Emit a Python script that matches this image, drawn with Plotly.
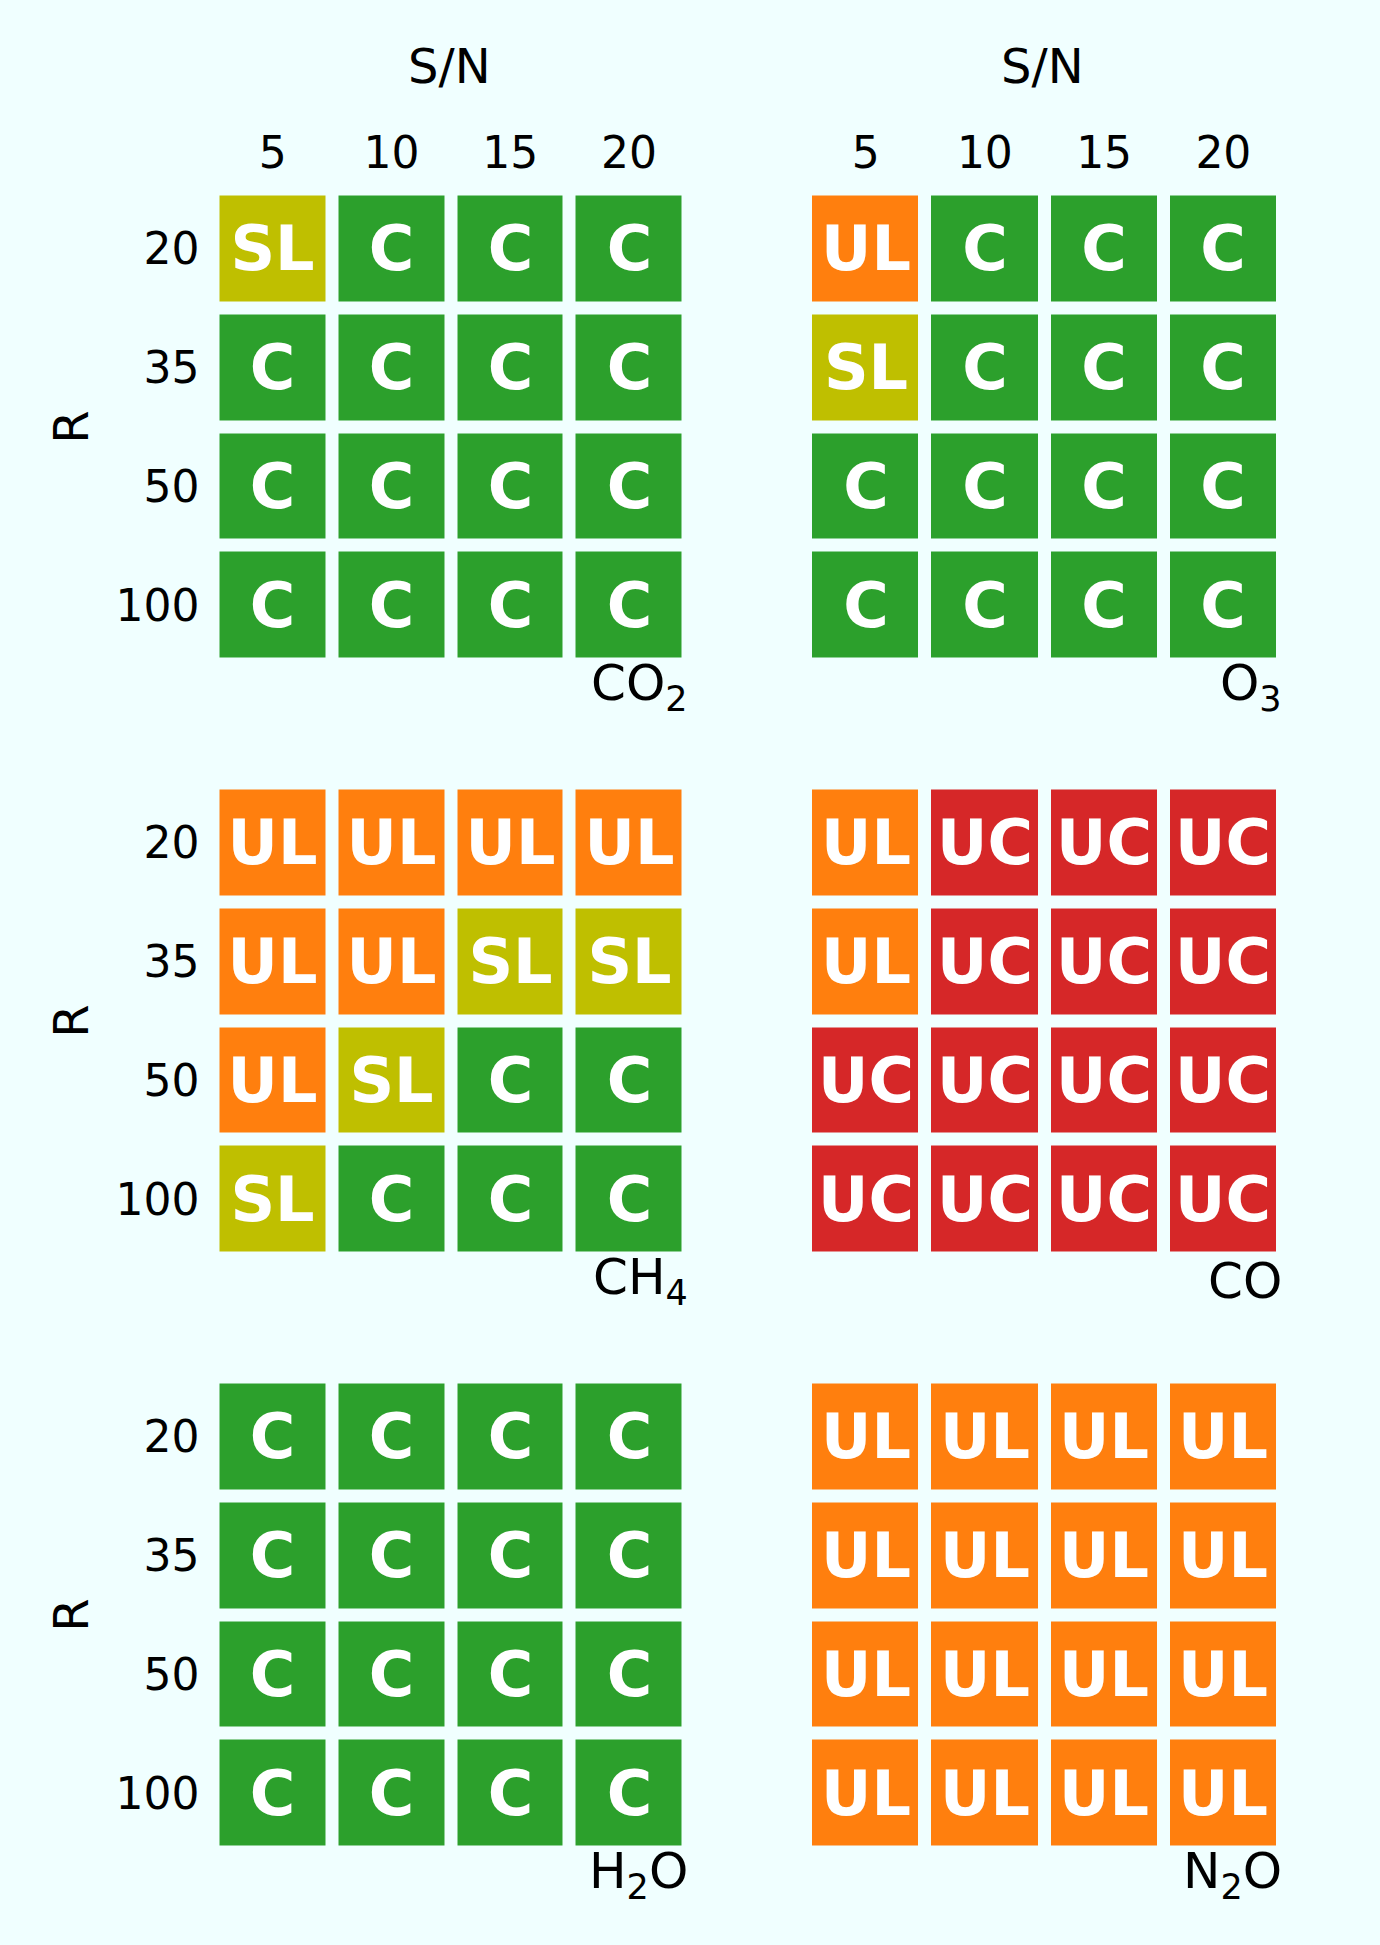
import plotly.graph_objects as go

# ---- data ----
SN = ["5", "10", "15", "20"]
R = ["20", "35", "50", "100"]
molecules = ["CO<sub>2</sub>", "O<sub>3</sub>", "CH<sub>4</sub>", "CO", "H<sub>2</sub>O", "N<sub>2</sub>O"]

co2 = [["SL", "C", "C", "C"],
       ["C", "C", "C", "C"],
       ["C", "C", "C", "C"],
       ["C", "C", "C", "C"]]
o3 = [["UL", "C", "C", "C"],
      ["SL", "C", "C", "C"],
      ["C", "C", "C", "C"],
      ["C", "C", "C", "C"]]
ch4 = [["UL", "UL", "UL", "UL"],
       ["UL", "UL", "SL", "SL"],
       ["UL", "SL", "C", "C"],
       ["SL", "C", "C", "C"]]
co = [["UL", "UC", "UC", "UC"],
      ["UL", "UC", "UC", "UC"],
      ["UC", "UC", "UC", "UC"],
      ["UC", "UC", "UC", "UC"]]
h2o = [["C", "C", "C", "C"],
       ["C", "C", "C", "C"],
       ["C", "C", "C", "C"],
       ["C", "C", "C", "C"]]
n2o = [["UL", "UL", "UL", "UL"],
       ["UL", "UL", "UL", "UL"],
       ["UL", "UL", "UL", "UL"],
       ["UL", "UL", "UL", "UL"]]
panels = [co2, o3, ch4, co, h2o, n2o]

categories = ["C", "SL", "UL", "UC"]
cat_colors = ["#2ca02c", "#bfbf00", "#ff7f0e", "#d62728"]

# ---- layout geometry (pixels) ----
W, H = 1380, 1945
BG = "#F0FFFF"
col_x = [(213.5, 688.5), (806.0, 1283.0)]
row_y = [(189.5, 664.5), (783.5, 1258.5), (1377.5, 1852.5)]
FONT = "DejaVu Sans"

# discrete colorscale
cs = []
n = len(categories)
for i, c in enumerate(cat_colors):
    cs.append([i / n, c])
    cs.append([(i + 1) / n, c])

fig = go.Figure()
annotations = []
for idx, grid in enumerate(panels):
    r, c = divmod(idx, 2)
    k = idx + 1
    xs = "x" if k == 1 else f"x{k}"
    ys = "y" if k == 1 else f"y{k}"
    z = [[categories.index(v) for v in row] for row in grid]
    fig.add_trace(go.Heatmap(
        x=SN, y=R, z=z, text=grid, texttemplate="%{text}",
        textfont=dict(family=FONT, size=62, color="white", weight="bold"),
        colorscale=cs, zmin=-0.5, zmax=n - 0.5, showscale=False,
        xgap=13, ygap=13, xaxis=xs, yaxis=ys, hoverinfo="skip"))
    x0, x1 = col_x[c]
    y0, y1 = row_y[r]
    xa = dict(domain=[x0 / W, x1 / W], anchor=ys, type="category",
              categoryorder="array", categoryarray=SN, range=[-0.5, 3.5],
              side="top", showticklabels=(r == 0), ticks="",
              ticklabelstandoff=12,
              tickfont=dict(family=FONT, size=44, color="black"),
              showgrid=False, zeroline=False, showline=False, fixedrange=True)
    ya = dict(domain=[1 - y1 / H, 1 - y0 / H], anchor=xs, type="category",
              categoryorder="array", categoryarray=R, range=[3.5, -0.5],
              showticklabels=(c == 0), ticks="",
              ticklabelstandoff=13,
              tickfont=dict(family=FONT, size=44, color="black"),
              showgrid=False, zeroline=False, showline=False, fixedrange=True)
    fig.layout["xaxis" if k == 1 else f"xaxis{k}"] = xa
    fig.layout["yaxis" if k == 1 else f"yaxis{k}"] = ya

    # molecule label
    annotations.append(dict(text=molecules[idx], x=(x1 + 1) / W, y=1 - (y1 + 22) / H,
                            xref="paper", yref="paper", xanchor="right", yanchor="middle",
                            showarrow=False, font=dict(family=FONT, size=50, color="black")))
    if r == 0:
        annotations.append(dict(text="S/N", x=((x0 + x1) / 2 - 2) / W, y=1 - 65.7 / H,
                                xref="paper", yref="paper", xanchor="center", yanchor="middle",
                                showarrow=False, font=dict(family=FONT, size=48, color="black")))
    if c == 0:
        annotations.append(dict(text="R", x=70.7 / W, y=1 - ((y0 + y1) / 2) / H,
                                xref="paper", yref="paper", xanchor="center", yanchor="middle",
                                textangle=-90, showarrow=False,
                                font=dict(family=FONT, size=48, color="black")))

fig.update_layout(width=W, height=H, margin=dict(l=0, r=0, t=0, b=0),
                  paper_bgcolor=BG, plot_bgcolor=BG, annotations=annotations,
                  showlegend=False)
fig.write_html("out.html", config={"displayModeBar": False},
               post_script="document.body.style.margin='0';document.body.style.background='#F0FFFF';")
